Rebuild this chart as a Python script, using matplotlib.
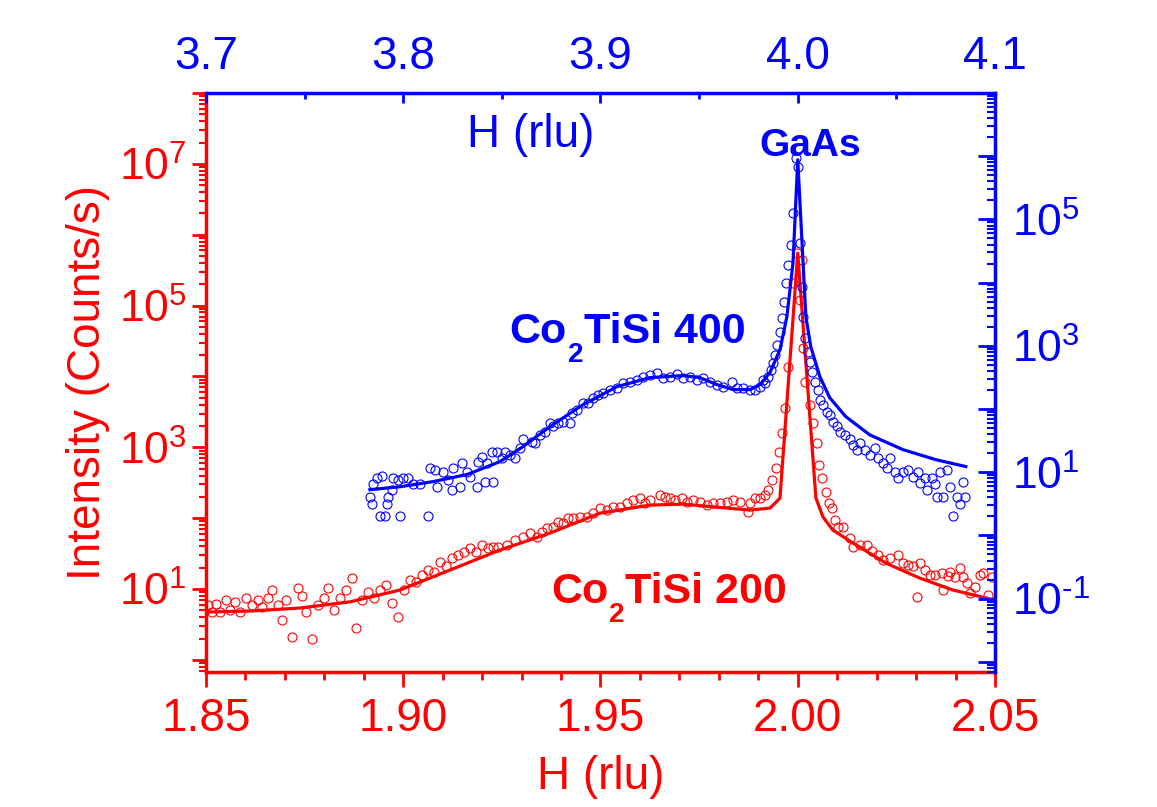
import matplotlib
matplotlib.use("Agg")
import matplotlib.pyplot as plt
import numpy as np
from matplotlib.ticker import LogLocator, FuncFormatter, MultipleLocator, NullFormatter

plt.rcParams['font.family'] = ['Liberation Sans', 'DejaVu Sans']
plt.rcParams['mathtext.fontset'] = 'custom'
plt.rcParams['mathtext.rm'] = 'Liberation Sans'
plt.rcParams['mathtext.bf'] = 'Liberation Sans:bold'
plt.rcParams['mathtext.default'] = 'regular'

RED = '#ff0000'
BLUE = '#0000ff'

# Co2TiSi 200 scan (bottom H axis, left intensity axis)
red_h = [1.8505, 1.8515, 1.8525, 1.8535, 1.8551, 1.8561, 1.8574, 1.8586, 1.8601, 1.8617,
         1.8632, 1.8642, 1.8657, 1.8667, 1.8683, 1.8693, 1.8703, 1.8718, 1.8733, 1.8743,
         1.8754, 1.8769, 1.8784, 1.8799, 1.8809, 1.8824, 1.8840, 1.8855, 1.8870, 1.8880,
         1.8895, 1.8911, 1.8926, 1.8941, 1.8956, 1.8972, 1.8987, 1.9002, 1.9017, 1.9032,
         1.9048, 1.9063, 1.9078, 1.9093, 1.9108, 1.9124, 1.9139, 1.9154, 1.9169, 1.9184,
         1.9200, 1.9215, 1.9228, 1.9240, 1.9263, 1.9283, 1.9304, 1.9321, 1.9339, 1.9352,
         1.9364, 1.9380, 1.9392, 1.9405, 1.9418, 1.9430, 1.9448, 1.9466, 1.9481, 1.9499,
         1.9517, 1.9532, 1.9550, 1.9567, 1.9582, 1.9600, 1.9613, 1.9626, 1.9651, 1.9664,
         1.9676, 1.9689, 1.9707, 1.9719, 1.9735, 1.9752, 1.9770, 1.9785, 1.9803, 1.9821,
         1.9836, 1.9854, 1.9874, 1.9879, 1.9892, 1.9904, 1.9917, 1.9925, 1.9935, 1.9945,
         1.9953, 1.9960, 1.9968, 1.9976, 1.9988, 1.9998, 2.0011, 2.0006, 2.0014, 2.0019,
         2.0031, 2.0039, 2.0049, 2.0054, 2.0062, 2.0072, 2.0079, 2.0087, 2.0095, 2.0102,
         2.0115, 2.0133, 2.0140, 2.0158, 2.0176, 2.0188, 2.0204, 2.0216, 2.0234, 2.0254,
         2.0267, 2.0280, 2.0292, 2.0302, 2.0310, 2.0323, 2.0335, 2.0348, 2.0366, 2.0368,
         2.0381, 2.0386, 2.0399, 2.0411, 2.0419, 2.0429, 2.0437, 2.0449, 2.0462, 2.0470,
         2.0482, 2.0493]
red_counts = [5.9, 4.7, 6.1, 4.7, 7.0, 5.1, 6.6, 4.7, 7.5, 5.9,
              7.0, 5.6, 7.5, 9.7, 5.9, 3.7, 7.0, 2.1, 10.3, 8.0,
              4.7, 2.0, 5.9, 7.5, 10.3, 5.1, 7.5, 9.7, 14.3, 2.8,
              7.0, 9.1, 7.5, 9.7, 11.4, 6.4, 4.0, 9.7, 13.4, 12.6,
              15.7, 18.5, 17.4, 24, 21, 27, 30, 33, 38, 33,
              42, 38, 39, 39, 42, 49, 54, 62, 54, 64,
              72, 75, 88, 85, 100, 100, 104, 104, 118, 139,
              130, 143, 143, 163, 180, 192, 163, 180, 212, 199,
              192, 180, 192, 169, 180, 169, 153, 163, 163, 169,
              180, 169, 122, 163, 192, 192, 212, 249, 344, 509,
              855, 1590, 3570, 13500, 2.07e5, 5.5e5, 4.4e5, 1.19e5, 2.5e4, 8300,
              3940, 2190, 1150, 561, 368, 233, 163, 139, 94, 75,
              75, 52, 39, 42, 42, 35, 30, 26, 27, 30,
              23, 22, 21, 7.7, 23, 18.5, 15.7, 15.7, 16.8, 9.7,
              15.2, 17.4, 14.8, 19.8, 14.8, 12.2, 8.8, 10.7, 15.7, 16.8,
              8.2, 14.8]
red_fit_h = [1.850, 1.8612, 1.8738, 1.8865, 1.8992, 1.9118, 1.9245, 1.9372, 1.9499, 1.9625,
             1.9709, 1.9795, 1.9879, 1.9930, 1.9955, 2.0000, 2.0046, 2.0064, 2.0089, 2.0140,
             2.0223, 2.0309, 2.0393, 2.0477, 2.050]
red_fit_counts = [4.74, 4.9, 5.4, 6.6, 9.7, 18.5, 35.5, 61.6, 118, 153,
                  158, 143, 130, 139, 192, 5.5e5, 192, 104, 68, 44.6,
                  23.3, 14.3, 9.7, 7.5, 7.0]

# Co2TiSi 400 scan (top H axis, right intensity axis)
blue_h = [3.7831, 3.7842, 3.7847, 3.7867, 3.7882, 3.7892, 3.7908, 3.7918, 3.7923, 3.7943,
          3.7948, 3.7973, 3.7984, 3.7999, 3.8024, 3.8049, 3.8085, 3.8126, 3.8136, 3.8161,
          3.8171, 3.8202, 3.8227, 3.8247, 3.8252, 3.8288, 3.8298, 3.8323, 3.8338, 3.8374,
          3.8379, 3.8399, 3.8415, 3.8425, 3.8450, 3.8455, 3.8475, 3.8501, 3.8516, 3.8541,
          3.8567, 3.8592, 3.8607, 3.8653, 3.8668, 3.8693, 3.8719, 3.8744, 3.8759, 3.8785,
          3.8810, 3.8846, 3.8856, 3.8881, 3.8911, 3.8937, 3.8962, 3.8987, 3.9013, 3.9048,
          3.9084, 3.9114, 3.9150, 3.9185, 3.9216, 3.9251, 3.9287, 3.9317, 3.9352, 3.9388,
          3.9418, 3.9454, 3.9489, 3.9520, 3.9555, 3.9591, 3.9621, 3.9667, 3.9692, 3.9723,
          3.9758, 3.9783, 3.9809, 3.9824, 3.9834, 3.9849, 3.9865, 3.9875, 3.9885, 3.9895,
          3.9910, 3.9920, 3.9930, 3.9940, 3.9951, 3.9966, 3.9976, 3.9991, 4.0001, 4.0011,
          4.0022, 4.0027, 4.0037, 4.0052, 4.0062, 4.0072, 4.0088, 4.0103, 4.0113, 4.0128,
          4.0148, 4.0164, 4.0179, 4.0199, 4.0214, 4.0240, 4.0265, 4.0280, 4.0301, 4.0316,
          4.0341, 4.0366, 4.0392, 4.0407, 4.0432, 4.0453, 4.0468, 4.0493, 4.0508, 4.0534,
          4.0559, 4.0584, 4.0610, 4.0620, 4.0645, 4.0655, 4.0681, 4.0696, 4.0706, 4.0721,
          4.0737, 4.0757, 4.0772, 4.0787, 4.0808, 4.0823, 4.0838, 4.0848]
blue_counts = [4.1, 3.1, 6.4, 8.2, 2.0, 8.8, 2.0, 3.1, 4.0, 5.3,
               8.2, 7.6, 2.0, 8.2, 8.2, 6.4, 6.4, 2.0, 11.8, 11.0,
               5.9, 10.2, 7.6, 5.3, 11.8, 5.9, 14.2, 10.2, 8.5, 5.9,
               14.7, 17.7, 7.1, 14.2, 21, 7.1, 21, 17, 21, 19,
               17, 24.5, 33, 30.5, 29, 39, 44, 61, 53, 61,
               63, 61, 88, 98, 126, 126, 151, 169, 182, 203,
               218, 262, 272, 292, 326, 350, 377, 314, 326, 363,
               314, 326, 292, 314, 272, 243, 226, 272, 218, 218,
               203, 203, 226, 292, 262, 326, 420, 542, 726, 1045,
               1680, 2790, 5000, 1.0e4, 1.93e4, 4.0e4, 1.28e5, 9.5e5, 6.8e5, 4.3e4,
               8600, 2900, 1350, 810, 562, 391, 272, 203, 141, 117,
               91, 81, 63, 53, 44, 39, 33, 27, 22.8, 29,
               22.8, 19, 24.5, 17, 14.2, 11.8, 17, 10.2, 8.2, 10.2,
               11.0, 8.5, 10.2, 6.8, 8.2, 5.3, 8.2, 6.4, 4.1, 10.2,
               4.1, 11.0, 5.9, 2.0, 4.1, 3.1, 7.1, 4.1]
blue_fit_h = [3.7831, 3.7984, 3.8151, 3.8323, 3.8490, 3.8607, 3.8744, 3.8911, 3.9084, 3.9251,
              3.9418, 3.9504, 3.9591, 3.9672, 3.9758, 3.9809, 3.9859, 3.9910, 3.9945, 3.9976,
              4.0000, 4.0041, 4.0066, 4.0112, 4.0162, 4.0243, 4.0365, 4.0533, 4.0700, 4.0852]
blue_fit_counts = [5.3, 5.9, 7.1, 9.2, 14.7, 25.4, 52.7, 117, 226, 314,
                   338, 314, 243, 203, 203, 243, 377, 871, 2900, 2.07e4,
                   8.8e5, 2900, 970, 326, 151, 76, 39, 22.8, 15.8, 12.3]

bottom_ticks = [1.85, 1.90, 1.95, 2.00, 2.05]
top_ticks = [3.7, 3.8, 3.9, 4.0, 4.1]
left_label_exps = [1, 3, 5, 7]
right_label_exps = [-1, 1, 3, 5]


def decade_formatter(shown):
    def fmt(val, pos):
        e = int(round(np.log10(val)))
        if e not in shown:
            return ''
        if e < 0:
            return r'$\mathdefault{10^{\text{-%d}}}$' % (-e)
        return r'$\mathdefault{10^{%d}}$' % e
    return FuncFormatter(fmt)


fig = plt.figure(figsize=(11.57, 8.07), dpi=100)
rect = [0.178, 0.1673, 0.682, 0.7175]
ax = fig.add_axes(rect)
ax2 = fig.add_axes(rect)
ax2.patch.set_visible(False)

# red: bottom / left
ax.plot(red_h, red_counts, 'o', ms=6.5, mfc='none', mec=RED, mew=0.8, zorder=2)
ax.plot(red_fit_h, red_fit_counts, '-', color=RED, lw=2.3, zorder=3)
ax.set_yscale('log')
ax.set_xlim(1.85, 2.05)
ax.set_ylim(10 ** -0.17, 1e8)
ax.set_xticks(bottom_ticks)
ax.set_xticklabels(['%.2f' % t for t in bottom_ticks])
ax.xaxis.set_minor_locator(MultipleLocator(0.01))
ax.yaxis.set_major_locator(LogLocator(base=10, numticks=20))
ax.yaxis.set_minor_locator(LogLocator(base=10, subs=np.arange(2, 10), numticks=20))
ax.yaxis.set_major_formatter(decade_formatter(left_label_exps))
ax.yaxis.set_minor_formatter(NullFormatter())
ax.tick_params(axis='x', which='major', direction='out', length=11, width=2, colors=RED,
               labelsize=33, pad=7)
ax.tick_params(axis='x', which='minor', direction='out', length=6, width=2, colors=RED)
ax.tick_params(axis='y', which='major', direction='out', length=10, width=2, colors=RED,
               labelsize=32, pad=4)
ax.tick_params(axis='y', which='minor', direction='out', length=5, width=1.5, colors=RED)
ax.spines['left'].set_color(RED)
ax.spines['bottom'].set_color(RED)
ax.spines['left'].set_linewidth(2.5)
ax.spines['bottom'].set_linewidth(2.5)
ax.spines['top'].set_visible(False)
ax.spines['right'].set_visible(False)
ax.set_xlabel('H (rlu)', color=RED, fontsize=33, labelpad=10)
ax.set_ylabel('Intensity (Counts/s)', color=RED, fontsize=33, labelpad=6)

# blue: top / right
ax2.plot(blue_h, blue_counts, 'o', ms=6.5, mfc='none', mec=BLUE, mew=0.8, zorder=2)
ax2.plot(blue_fit_h, blue_fit_counts, '-', color=BLUE, lw=2.3, zorder=3)
ax2.set_yscale('log')
ax2.set_xlim(3.7, 4.1)
ax2.set_ylim(10 ** -2.16, 1e7)
ax2.xaxis.tick_top()
ax2.yaxis.tick_right()
ax2.set_xticks(top_ticks)
ax2.set_xticklabels(['%.1f' % t for t in top_ticks])
ax2.xaxis.set_minor_locator(MultipleLocator(0.05))
ax2.yaxis.set_major_locator(LogLocator(base=10, numticks=20))
ax2.yaxis.set_minor_locator(LogLocator(base=10, subs=np.arange(2, 10), numticks=20))
ax2.yaxis.set_major_formatter(decade_formatter(right_label_exps))
ax2.yaxis.set_minor_formatter(NullFormatter())
ax2.tick_params(axis='x', which='major', direction='in', length=7, width=2, colors=BLUE,
                labelsize=33, pad=10)
ax2.tick_params(axis='x', which='minor', direction='in', length=4, width=2, colors=BLUE)
ax2.tick_params(axis='y', which='major', direction='in', length=12, width=2, colors=BLUE,
                labelsize=32, pad=12)
ax2.tick_params(axis='y', which='minor', direction='in', length=6, width=1.5, colors=BLUE)
ax2.spines['top'].set_color(BLUE)
ax2.spines['right'].set_color(BLUE)
ax2.spines['top'].set_linewidth(2.5)
ax2.spines['right'].set_linewidth(2.5)
ax2.spines['left'].set_visible(False)
ax2.spines['bottom'].set_visible(False)

ax2.text(0.411, 0.927, 'H (rlu)', transform=ax2.transAxes, color=BLUE, fontsize=33,
         ha='center', va='center')
ax2.text(0.766, 0.909, 'GaAs', transform=ax2.transAxes, color=BLUE, fontsize=28,
         fontweight='bold', ha='center', va='center')


def compound_label(x, y, tail, color):
    # "Co" + lowered subscript "2" + rest, chained on each other's boxes
    t1 = ax2.text(x, y, 'Co', transform=ax2.transAxes, color=color, fontsize=31,
                  fontweight='bold', ha='left', va='baseline')
    t2 = ax2.annotate('2', xy=(1, 0), xycoords=t1, xytext=(0.5, 7.5), textcoords='offset points',
                      color=color, fontsize=20, fontweight='bold', ha='left', va='top')
    ax2.annotate(tail, xy=(1, 0), xycoords=(t2, t1), xytext=(0.5, 0), textcoords='offset points',
                 color=color, fontsize=31, fontweight='bold', ha='left', va='bottom')


compound_label(0.385, 0.568, 'TiSi 400', BLUE)
compound_label(0.437, 0.119, 'TiSi 200', RED)

fig.savefig('out.png', dpi=100)
